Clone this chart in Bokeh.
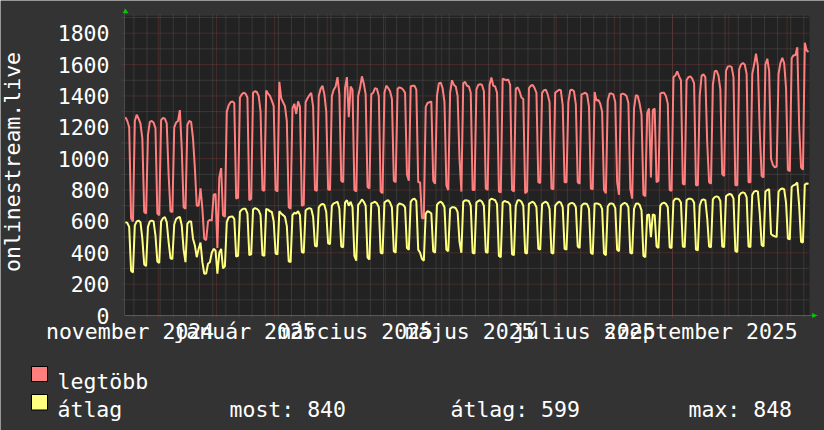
from datetime import date, timedelta

from bokeh.plotting import figure
from bokeh.models import (ColumnDataSource, FixedTicker, BoxAnnotation,
                          PolyAnnotation, Range1d)
from bokeh.core.properties import value
from bokeh.embed import file_html
from bokeh.resources import INLINE

# ---------------------------------------------------------------- data
START = date(2024, 11, 13)          # first day shown (Wednesday)
N_DAYS = 365

# daily maximum ("legtöbb"), one row per week Mon..Sun
legtobb = [
    1265, 1240, 1200, 620, 600,                      # Nov 13-17 2024
    1240, 1280, 1255, 1225, 1130, 660, 650,          # Nov 18
    1150, 1235, 1240, 1230, 1195, 650, 640,          # Nov 25
    1245, 1260, 1255, 1225, 900, 665, 660,           # Dec 2
    1200, 1230, 1240, 1310, 1065, 690, 680,          # Dec 9
    1215, 1240, 1235, 1130, 940, 700, 700,           # Dec 16
    810, 680, 490, 480, 600, 610, 605,               # Dec 23
    770, 775, 430, 880, 940, 640, 630,               # Dec 30
    1300, 1340, 1360, 1365, 1355, 745, 750,          # Jan 6 2025
    1390, 1410, 1420, 1415, 1390, 735, 745,          # Jan 13
    1420, 1430, 1425, 1400, 1300, 800, 795,          # Jan 20
    1435, 1415, 1400, 1370, 1335, 800, 790,          # Jan 27
    1490, 1385, 1360, 1335, 1240, 690, 680,          # Feb 3
    1320, 1350, 1285, 1365, 1330, 700, 705,          # Feb 10
    1360, 1385, 1405, 1420, 1330, 800, 795,          # Feb 17
    1400, 1445, 1465, 1410, 1300, 805, 800,          # Feb 24
    1400, 1440, 1460, 1520, 1410, 860, 850,          # Mar 3
    1450, 1520, 1265, 1460, 1440, 800, 790,          # Mar 10
    1400, 1450, 1525, 1480, 1410, 820, 810,          # Mar 17
    1410, 1420, 1450, 1445, 1400, 790, 780,          # Mar 24
    1420, 1465, 1450, 1430, 1380, 860, 850,          # Mar 31
    1445, 1455, 1450, 1440, 1420, 900, 860,          # Apr 7
    1460, 1465, 1465, 1440, 850, 850, 620,           # Apr 14
    620, 1330, 1355, 1360, 1365, 860, 840,           # Apr 21
    1400, 1480, 1485, 1450, 1360, 830, 800,          # Apr 28
    1420, 1500, 1470, 1460, 1400, 1000, 790,         # May 5
    1480, 1490, 1465, 1460, 1420, 800, 800,          # May 12
    1440, 1470, 1475, 1470, 1430, 810, 800,          # May 19
    1470, 1517, 1465, 1460, 1420, 790, 785,          # May 26
    1510, 1505, 1500, 1505, 1470, 800, 790,          # Jun 2
    1445, 1455, 1430, 1390, 1380, 780, 790,          # Jun 9
    1450, 1465, 1470, 1450, 1420, 850, 845,          # Jun 16
    1420, 1436, 1440, 1410, 1360, 810, 805,          # Jun 23
    1420, 1430, 1440, 1436, 1340, 850, 850,          # Jun 30
    1362, 1436, 1440, 1430, 1345, 850, 840,          # Jul 7
    1410, 1415, 1420, 1410, 1330, 810, 805,          # Jul 14
    1425, 1370, 1375, 1350, 1300, 800, 780,          # Jul 21
    1370, 1415, 1415, 1410, 1360, 850, 770,          # Jul 28
    1410, 1415, 1410, 1400, 1355, 810, 745,          # Aug 4
    1320, 1405, 1400, 1350, 1280, 770, 760,          # Aug 11
    1290, 1320, 880, 1310, 1320, 850, 860,           # Aug 18
    1415, 1420, 1420, 1400, 1350, 800, 795,          # Aug 25
    1520, 1530, 1557, 1525, 1500, 840, 835,          # Sep 1
    1500, 1520, 1525, 1510, 1480, 830, 830,          # Sep 8
    1400, 1530, 1537, 1520, 1100, 850, 840,          # Sep 15
    1470, 1557, 1560, 1530, 1440, 900, 890,          # Sep 22
    1560, 1588, 1590, 1585, 1520, 830, 830,          # Sep 29
    1570, 1600, 1609, 1600, 1540, 850, 850,          # Oct 6
    1540, 1600, 1669, 1590, 1170, 890, 880,          # Oct 13
    1600, 1637, 1560, 1000, 960, 945, 950,           # Oct 20
    1540, 1610, 1643, 1610, 1450, 930, 920,          # Oct 27
    1640, 1660, 1660, 1711, 1200, 945, 930,          # Nov 3
    1739, 1690, 1680,                                # Nov 10-12
]

# daily average ("átlag"), one row per week Mon..Sun
atlag = [
    596, 590, 565, 285, 275,
    575, 600, 605, 595, 490, 325, 315,
    565, 600, 605, 600, 510, 345, 335,
    600, 620, 628, 595, 470, 365, 360,
    580, 615, 625, 628, 575, 420, 340,
    585, 600, 600, 490, 447, 372, 425,
    465, 340, 266, 268, 330, 340, 400,
    425, 415, 266, 400, 425, 300, 315,
    595, 625, 630, 632, 615, 375, 380,
    660, 675, 681, 680, 650, 385, 390,
    675, 685, 680, 670, 640, 385, 380,
    680, 675, 665, 660, 600, 395, 390,
    665, 650, 640, 630, 570, 345, 340,
    640, 655, 650, 665, 640, 405, 400,
    670, 680, 685, 680, 630, 445, 440,
    690, 705, 712, 705, 660, 460, 455,
    700, 715, 720, 725, 680, 440, 435,
    720, 735, 700, 725, 690, 380, 350,
    705, 720, 740, 725, 700, 370, 357,
    715, 720, 725, 715, 690, 400, 395,
    720, 730, 735, 720, 690, 410, 400,
    700, 715, 710, 705, 690, 430, 420,
    725, 740, 745, 730, 420, 400, 360,
    350, 650, 665, 660, 650, 410, 400,
    705, 720, 725, 715, 690, 420, 410,
    680, 690, 690, 685, 660, 470, 400,
    725, 735, 733, 730, 700, 400, 395,
    720, 730, 735, 725, 700, 405, 400,
    735, 745, 740, 735, 710, 380, 372,
    720, 730, 725, 722, 705, 390, 385,
    700, 735, 735, 725, 700, 400, 395,
    712, 720, 725, 715, 690, 425, 420,
    710, 720, 725, 715, 680, 400, 395,
    700, 715, 725, 720, 690, 425, 420,
    705, 715, 718, 712, 690, 440, 430,
    700, 712, 714, 710, 680, 400, 390,
    712, 715, 712, 705, 680, 395, 385,
    695, 712, 715, 710, 685, 420, 410,
    700, 712, 718, 712, 690, 400, 395,
    680, 712, 715, 705, 670, 380, 372,
    640, 645, 500, 645, 640, 440, 430,
    700, 715, 720, 712, 690, 435, 430,
    730, 745, 745, 740, 720, 440, 436,
    735, 745, 745, 740, 720, 420, 415,
    700, 735, 740, 735, 620, 440, 435,
    740, 755, 760, 755, 730, 440, 436,
    760, 770, 775, 770, 745, 410, 405,
    765, 780, 785, 780, 755, 440, 436,
    770, 790, 795, 790, 650, 450, 440,
    790, 800, 805, 520, 510, 505, 500,
    790, 805, 810, 805, 720, 490, 485,
    820, 830, 835, 848, 700, 470, 465,
    835, 842, 840,
]

label_months = [date(2024, 11, 1), date(2025, 1, 1), date(2025, 3, 1),
                date(2025, 5, 1), date(2025, 7, 1), date(2025, 9, 1)]
label_texts = ["november 2024", "január 2025", "március 2025",
               "május 2025", "július 2025", "szeptember 2025"]
y_ticks = [0, 200, 400, 600, 800, 1000, 1200, 1400, 1600, 1800]
y_minor = [100, 300, 500, 700, 900, 1100, 1300, 1500, 1700, 1900]
Y_TOP = 1911

series_names = ["legtöbb", "átlag"]
stats_labels = ["most: 840", "átlag: 599", "max: 848"]

# ---------------------------------------------------------------- derived
days = [START + timedelta(days=i) for i in range(N_DAYS)]
xs = [(d - START).days + 0.5 for d in days]
label_ticks = [(m - START).days + 15 for m in label_months]
month_starts = []
yy, mm = 2024, 12
while (date(yy, mm, 1) - START).days < N_DAYS:
    month_starts.append((date(yy, mm, 1) - START).days)
    mm += 1
    if mm > 12:
        mm, yy = 1, yy + 1
mondays = [(d - START).days for d in days if d.weekday() == 0]

FONT = "DejaVu Sans Mono"
FS = "21.5px"
PINK = "#ff7f7f"
YELLOW = "#ffff7f"
BG = "#333333"
GRID = "#505050"
MGRID = "#6e3636"
AXIS = "#5a5a5a"

# layout: plot area origin at px (124, 315), 685 px for the year
W, H = 824, 430
X0, Y0 = 124, 315
PXD = 685 / N_DAYS            # px per day
PXV = 282.3 / 1800            # px per unit


def dx(sx):
    return (sx - X0) / PXD


def dy(sy):
    return (Y0 - sy) / PXV


p = figure(width=W, height=H, output_backend="svg", toolbar_location=None,
           x_range=Range1d(dx(0), dx(W)), y_range=Range1d(dy(H), dy(0)),
           min_border=0, min_border_left=0, min_border_right=0,
           min_border_top=0, min_border_bottom=0,
           background_fill_color=BG, border_fill_color=BG, outline_line_color=None)
p.xgrid.visible = False
p.ygrid.visible = False

# dark plot area
p.add_layout(BoxAnnotation(left=0, right=N_DAYS, bottom=0, top=Y_TOP,
                           fill_color="#222222", fill_alpha=1, line_color=None,
                           level="underlay"))

# grid (dashed), with small tick stubs outside the plot area
ext_y = 2 / PXV
ext_x = 3 / PXD
for ticks, col in ((mondays, GRID), (month_starts, MGRID)):
    p.segment(x0=ticks, x1=ticks, y0=[-ext_y] * len(ticks), y1=[Y_TOP + ext_y] * len(ticks),
              line_color=col, line_width=1, line_dash="1 1")
for ticks, col in ((y_minor, GRID), (y_ticks[1:], MGRID)):
    p.segment(x0=[-ext_x] * len(ticks), x1=[N_DAYS] * len(ticks), y0=ticks, y1=ticks,
              line_color=col, line_width=1, line_dash="1 1")

# axes drawn at the plot-area origin
ax = p.yaxis[0]
ax.fixed_location = 0
ax.bounds = (0, Y_TOP + 7 / PXV)
ax.ticker = FixedTicker(ticks=y_ticks)
ax.major_label_text_font = FONT
ax.major_label_text_font_size = FS
ax.major_label_text_color = "#ffffff"
ax.major_tick_out = 0
ax.major_tick_in = 0
ax.major_tick_line_color = None
ax.minor_tick_line_color = None
ax.axis_line_color = "#4a4a4a"
ax.major_label_standoff = 15
ax.axis_label = "onlinestream.live"
ax.axis_label_text_font = FONT
ax.axis_label_text_font_size = FS
ax.axis_label_text_font_style = "normal"
ax.axis_label_text_color = "#ffffff"
ax.axis_label_standoff = 30

bx = p.xaxis[0]
bx.fixed_location = 0
bx.bounds = (0, N_DAYS + 7.7 / PXD)
bx.ticker = FixedTicker(ticks=label_ticks)
bx.major_label_overrides = {t: s for t, s in zip(label_ticks, label_texts)}
bx.major_label_text_font = FONT
bx.major_label_text_font_size = FS
bx.major_label_text_color = "#ffffff"
bx.major_tick_out = 0
bx.major_tick_in = 0
bx.major_tick_line_color = None
bx.minor_tick_line_color = None
bx.axis_line_color = AXIS
bx.major_label_standoff = 3

# series
src = ColumnDataSource(dict(x=xs, mx=legtobb, av=atlag))
p.line("x", "mx", source=src, line_color=PINK, line_width=2)
p.line("x", "av", source=src, line_color=YELLOW, line_width=2)

# green arrows at the axis ends
p.add_layout(PolyAnnotation(
    xs=[-2 / PXD, 1 / PXD, 4 / PXD],
    ys=[Y_TOP + 2.6 / PXV, Y_TOP + 7 / PXV, Y_TOP + 2.6 / PXV],
    fill_color="#00cc00", fill_alpha=1, line_color=None))
p.add_layout(PolyAnnotation(
    xs=[N_DAYS + 2.7 / PXD, N_DAYS + 7.7 / PXD, N_DAYS + 2.7 / PXD],
    ys=[-2.6 / PXV, 0, 2.6 / PXV],
    fill_color="#00cc00", fill_alpha=1, line_color=None))

# legend
p.quad(left=[dx(31)] * 2, right=[dx(47)] * 2, top=[dy(366), dy(394)],
       bottom=[dy(381), dy(409.5)],
       fill_color=[PINK, YELLOW], line_color="#000000", line_width=1)
p.text(x=[dx(57), dx(57), dx(229), dx(450), dx(688)],
       y=[dy(380.7), dy(409), dy(409), dy(409), dy(409)],
       text=series_names + stats_labels,
       text_font=value(FONT), text_font_size=value(FS), text_color="#ffffff",
       text_baseline="alphabetic", text_align="left")

open("out.html", "w").write(file_html(p, INLINE))
